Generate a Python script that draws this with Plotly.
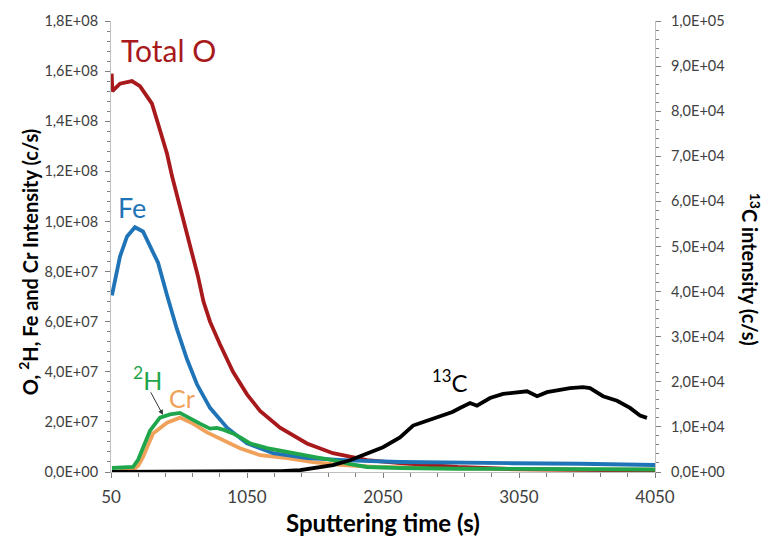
import plotly.graph_objects as go

# ---- data ----
t_O = [55, 60, 116, 204, 263, 351, 396, 462, 499, 572, 631, 690, 730, 778, 851, 947, 1050, 1146, 1293, 1491, 1682, 1932, 2175, 2400, 2600, 3000, 3500, 4050]
total_O = [1.59e8, 1.52e8, 1.55e8, 1.56e8, 1.54e8, 1.47e8, 1.39e8, 1.27e8, 1.18e8, 1.03e8, 9.1e7, 7.8e7, 6.8e7, 6.0e7, 5.1e7, 4.0e7, 3.1e7, 2.44e7, 1.77e7, 1.14e7, 7.5e6, 4.7e6, 3.5e6, 2.6e6, 2.0e6, 1.2e6, 8e5, 5e5]

t_Fe = [57, 116, 168, 226, 285, 337, 396, 462, 506, 535, 609, 682, 778, 903, 1050, 1241, 1491, 1800, 2175, 2600, 3000, 3500, 4050]
fe = [7.05e7, 8.6e7, 9.4e7, 9.77e7, 9.6e7, 9.0e7, 8.35e7, 7.05e7, 6.2e7, 5.7e7, 4.5e7, 3.5e7, 2.56e7, 1.77e7, 1.14e7, 7.5e6, 5.5e6, 4.6e6, 4.0e6, 3.6e6, 3.5e6, 3.3e6, 2.8e6]

t_H = [57, 150, 212, 250, 285, 337, 410, 484, 557, 631, 704, 778, 829, 880, 947, 1010, 1072, 1197, 1300, 1440, 1560, 1682, 1800, 1932, 2175, 2600, 3200, 4050]
h2 = [1.6e6, 1.8e6, 2.0e6, 5.0e6, 9.8e6, 1.65e7, 2.17e7, 2.3e7, 2.36e7, 2.13e7, 1.93e7, 1.73e7, 1.76e7, 1.68e7, 1.54e7, 1.35e7, 1.14e7, 9.5e6, 8.4e6, 6.7e6, 5.8e6, 4.7e6, 3.2e6, 2.0e6, 1.6e6, 1.3e6, 1.1e6, 1.0e6]

t_Cr = [57, 212, 250, 285, 359, 462, 557, 653, 756, 873, 998, 1146, 1344, 1535, 1734, 2000, 2500, 3000, 4050]
cr = [0, 8e5, 2.5e6, 5.9e6, 1.54e7, 1.97e7, 2.17e7, 1.93e7, 1.58e7, 1.26e7, 9.5e6, 6.7e6, 5.5e6, 3.9e6, 2.8e6, 2.0e6, 1.5e6, 1.1e6, 9e5]

t_C = [57, 500, 1000, 1300, 1440, 1564, 1682, 1807, 1932, 2050, 2175, 2271, 2320, 2374, 2430, 2491, 2560, 2616, 2690, 2741, 2837, 2933, 3035, 3109, 3183, 3256, 3351, 3425, 3521, 3572, 3668, 3771, 3866, 3940, 3991]
c13 = [0, 0, 100, 200, 400, 875, 1530, 2600, 4150, 5500, 7650, 10300, 10800, 11400, 11800, 12500, 13300, 14200, 15300, 14700, 16400, 17300, 17700, 17900, 16800, 17700, 18200, 18600, 18800, 18600, 16800, 15800, 14200, 12500, 12000]

x_ticks = [50, 1050, 2050, 3050, 4050]
y_ticks = [0, 2e7, 4e7, 6e7, 8e7, 1e8, 1.2e8, 1.4e8, 1.6e8, 1.8e8]
y_ticklabels = ["0,0E+00", "2,0E+07", "4,0E+07", "6,0E+07", "8,0E+07", "1,0E+08", "1,2E+08", "1,4E+08", "1,6E+08", "1,8E+08"]
y2_ticks = [0, 1e4, 2e4, 3e4, 4e4, 5e4, 6e4, 7e4, 8e4, 9e4, 1e5]
y2_ticklabels = ["0,0E+00", "1,0E+04", "2,0E+04", "3,0E+04", "4,0E+04", "5,0E+04", "6,0E+04", "7,0E+04", "8,0E+04", "9,0E+04", "1,0E+05"]

RED = "#a8191c"
BLUE = "#1f74b8"
GREEN = "#1fa64b"
ORANGE = "#f0a15a"
BLACK = "#000000"
FONT = "Lato"

fig = go.Figure()
lw = 3.8
fig.add_trace(go.Scatter(x=t_Cr, y=cr, mode="lines", line=dict(color=ORANGE, width=lw), name="Cr"))
fig.add_trace(go.Scatter(x=t_O, y=total_O, mode="lines", line=dict(color=RED, width=lw), name="Total O"))
fig.add_trace(go.Scatter(x=t_Fe, y=fe, mode="lines", line=dict(color=BLUE, width=lw), name="Fe"))
fig.add_trace(go.Scatter(x=t_H, y=h2, mode="lines", line=dict(color=GREEN, width=lw), name="2H"))
fig.add_trace(go.Scatter(x=t_C, y=c13, mode="lines", line=dict(color=BLACK, width=lw), name="13C", yaxis="y2"))

axis_common = dict(showgrid=False, zeroline=False, showline=True, linecolor="#bfbfbf", linewidth=1,
                   ticks="outside", tickcolor="#7f7f7f", ticklen=5)

fig.update_layout(
    width=767, height=541,
    margin=dict(l=111, r=112, t=15, b=69),
    paper_bgcolor="white", plot_bgcolor="white",
    showlegend=False,
    font=dict(family=FONT, color="#404040"),
    xaxis=dict(range=[50, 4050], tickvals=x_ticks, ticktext=[str(v) for v in x_ticks],
               tickfont=dict(size=17, family=FONT, color="#404040"), ticklabelstandoff=5,
               minor=dict(dtick=200, tick0=50, ticks="outside", ticklen=4, tickcolor="#7f7f7f"),
               **axis_common),
    yaxis=dict(range=[0, 1.8e8], tickvals=y_ticks, ticktext=y_ticklabels,
               tickfont=dict(size=14.5, family=FONT, color="#404040"), ticklabelstandoff=4,
               minor=dict(dtick=4e6, tick0=0, ticks="outside", ticklen=3, tickcolor="#7f7f7f"),
               **axis_common),
    yaxis2=dict(range=[0, 1e5], overlaying="y", side="right", tickvals=y2_ticks, ticktext=y2_ticklabels,
                tickfont=dict(size=14.5, family=FONT, color="#404040"), ticklabelstandoff=7,
                minor=dict(dtick=2000, tick0=0, ticks="outside", ticklen=3, tickcolor="#7f7f7f"),
                **axis_common),
)

ann = []
ann.append(dict(x=0.5, y=-0.112, xref="paper", yref="paper", text="<b>Sputtering time (s)</b>",
                showarrow=False, font=dict(size=24, color="#000000", family=FONT), xanchor="center", yanchor="middle"))
ann.append(dict(x=-0.152, y=0.466, xref="paper", yref="paper", text="<b>O, <sup>2</sup>H, Fe and Cr Intensity (c/s)</b>",
                showarrow=False, textangle=-90, xanchor="center", yanchor="middle",
                font=dict(size=20, color="#000000", family=FONT)))
ann.append(dict(x=1.178, y=0.449, xref="paper", yref="paper", text="<b><sup>13</sup>C intensity (c/s)</b>",
                showarrow=False, textangle=90, xanchor="center", yanchor="middle",
                font=dict(size=20, color="#000000", family=FONT)))
# curve labels
ann.append(dict(x=476, y=1.685e8, xref="x", yref="y", text="Total O", showarrow=False,
                font=dict(size=30, color=RED, family=FONT)))
ann.append(dict(x=204, y=1.055e8, xref="x", yref="y", text="Fe", showarrow=False,
                font=dict(size=27, color=BLUE, family=FONT)))
ann.append(dict(x=322, y=3.75e7, xref="x", yref="y", text="<sup>2</sup>H", showarrow=False,
                font=dict(size=25, color=GREEN, family=FONT)))
ann.append(dict(x=572, y=2.95e7, xref="x", yref="y", text="Cr", showarrow=False,
                font=dict(size=25, color=ORANGE, family=FONT)))
ann.append(dict(x=2540, y=3.62e7, xref="x", yref="y", text="<sup>13</sup>C", showarrow=False,
                font=dict(size=24, color=BLACK, family=FONT)))
ann.append(dict(x=432, y=2.28e7, xref="x", yref="y", ax=-13, ay=-24, text="", showarrow=True,
                arrowhead=2, arrowsize=1, arrowwidth=1, arrowcolor="#333333"))
fig.update_layout(annotations=ann)

fig.write_html("out.html")
